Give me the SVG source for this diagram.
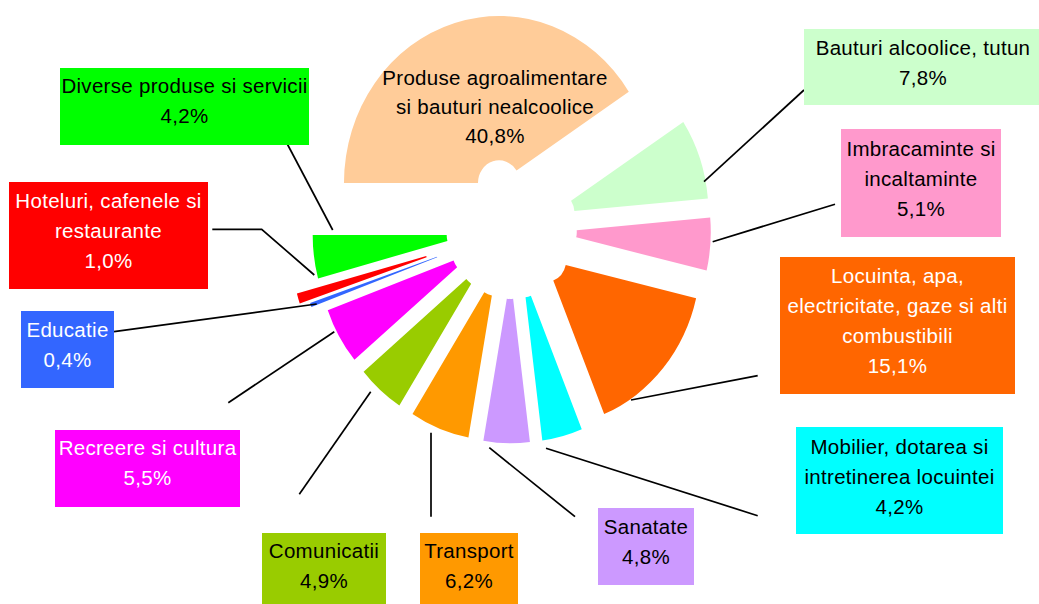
<svg xmlns="http://www.w3.org/2000/svg" width="1039" height="604" viewBox="0 0 1039 604">
<style>
text{font-family:"Liberation Sans",Arial,sans-serif;font-size:20.5px;letter-spacing:0.3px;text-anchor:middle}
.k{fill:#000}
.w{fill:#fff}
.c{fill:none;stroke:#000;stroke-width:1.7}
</style>
<rect width="1039" height="604" fill="#fff"/>
<g id="pie" transform="translate(511.6,228.7) scale(1,1.077)">
<path id="s-produse" fill="#FFCC99" d="M-167.63,-42.46 A155,155 0 0 1 117.19,-127.15 L4.96,-53.93 A21,21 0 0 0 -33.63,-42.46 Z"/>
<path id="s-bauturi" fill="#CCFFCC" d="M171.69,-99.17 A155,155 0 0 1 196.27,-28.10 L62.79,-16.32 A21,21 0 0 0 59.46,-25.95 Z"/>
<path id="s-imbracaminte" fill="#FF99CC" d="M198.58,-10.42 A155,155 0 0 1 195.01,38.91 L64.62,8.04 A21,21 0 0 0 65.10,1.36 Z"/>
<path id="s-locuinta" fill="#FF6600" d="M184.52,64.48 A155,155 0 0 1 92.56,172.16 L41.67,48.20 A21,21 0 0 0 54.13,33.61 Z"/>
<path id="s-mobilier" fill="#00FFFF" d="M70.16,186.23 A155,155 0 0 1 30.72,196.62 L13.92,63.67 A21,21 0 0 0 19.27,62.27 Z"/>
<path id="s-sanatate" fill="#CC99FF" d="M18.32,198.07 A155,155 0 0 1 -28.24,196.90 L-4.79,64.97 A21,21 0 0 0 1.52,65.12 Z"/>
<path id="s-transport" fill="#FF9900" d="M-43.18,193.90 A155,155 0 0 1 -99.11,172.16 L-27.30,59.02 A21,21 0 0 0 -19.73,61.97 Z"/>
<path id="s-comunicatii" fill="#99CC00" d="M-112.25,164.19 A155,155 0 0 1 -148.00,132.87 L-45.29,46.81 A21,21 0 0 0 -40.44,51.05 Z"/>
<path id="s-recreere" fill="#FF00FF" d="M-157.15,121.74 A155,155 0 0 1 -183.84,75.61 L-58.05,29.43 A21,21 0 0 0 -54.44,35.68 Z"/>
<path id="s-educatie" fill="#3366FF" d="M-200.20,72.72 A155,155 0 0 1 -201.50,69.05 L-74.59,26.04 A21,21 0 0 0 -74.41,26.54 Z"/>
<path id="s-hoteluri" fill="#FF0000" d="M-211.86,69.54 A155,155 0 0 1 -214.70,60.22 L-85.33,25.27 A21,21 0 0 0 -84.95,26.53 Z"/>
<path id="s-diverse" fill="#00FF00" d="M-193.55,46.26 A155,155 0 0 1 -198.91,5.83 L-64.91,5.83 A21,21 0 0 0 -64.18,11.31 Z"/>
</g>
<g id="connectors">
<line class="c" x1="804" y1="90" x2="704" y2="181.7"/>
<line class="c" x1="835" y1="204.3" x2="712.7" y2="241.7"/>
<line class="c" x1="757.7" y1="375.7" x2="631" y2="400"/>
<line class="c" x1="757.7" y1="515.7" x2="546" y2="448.3"/>
<line class="c" x1="575" y1="516.7" x2="489.3" y2="447.7"/>
<line class="c" x1="431" y1="516.7" x2="431" y2="432.7"/>
<line class="c" x1="299.3" y1="494.3" x2="370.7" y2="391.7"/>
<line class="c" x1="228.3" y1="402.7" x2="334.3" y2="331.7"/>
<line class="c" x1="114" y1="331.7" x2="316.7" y2="304"/>
<polyline class="c" points="212.3,229.3 261.7,229.3 314.3,275"/>
<line class="c" x1="287.3" y1="144" x2="332.7" y2="230"/>
</g>
<g id="label-produse">
<text class="k" x="495" y="85">Produse agroalimentare</text>
<text class="k" x="495" y="114">si bauturi nealcoolice</text>
<text class="k" x="495" y="143">40,8%</text>
</g>
<g id="label-bauturi">
<rect x="804" y="29" width="235" height="76" fill="#CCFFCC"/>
<text class="k" x="923" y="55">Bauturi alcoolice, tutun</text>
<text class="k" x="923" y="85">7,8%</text>
</g>
<g id="label-imbracaminte">
<rect x="841" y="129" width="160" height="108" fill="#FF99CC"/>
<text class="k" x="921" y="156">Imbracaminte si</text>
<text class="k" x="921" y="186">incaltaminte</text>
<text class="k" x="921" y="216">5,1%</text>
</g>
<g id="label-locuinta">
<rect x="780" y="257" width="235" height="137" fill="#FF6600"/>
<text class="w" x="897.5" y="283">Locuinta, apa,</text>
<text class="w" x="897.5" y="313">electricitate, gaze si alti</text>
<text class="w" x="897.5" y="343">combustibili</text>
<text class="w" x="897.5" y="373">15,1%</text>
</g>
<g id="label-mobilier">
<rect x="796" y="427" width="207" height="107" fill="#00FFFF"/>
<text class="k" x="899.5" y="454">Mobilier, dotarea si</text>
<text class="k" x="899.5" y="484">intretinerea locuintei</text>
<text class="k" x="899.5" y="514">4,2%</text>
</g>
<g id="label-sanatate">
<rect x="598" y="508" width="96" height="77" fill="#CC99FF"/>
<text class="k" x="646" y="534">Sanatate</text>
<text class="k" x="646" y="564">4,8%</text>
</g>
<g id="label-transport">
<rect x="420" y="533" width="98" height="71" fill="#FF9900"/>
<text class="k" x="469" y="558">Transport</text>
<text class="k" x="469" y="588">6,2%</text>
</g>
<g id="label-comunicatii">
<rect x="262" y="533" width="124" height="71" fill="#99CC00"/>
<text class="k" x="324" y="558">Comunicatii</text>
<text class="k" x="324" y="588">4,9%</text>
</g>
<g id="label-recreere">
<rect x="55" y="430" width="185" height="77" fill="#FF00FF"/>
<text class="w" x="147.5" y="455">Recreere si cultura</text>
<text class="w" x="147.5" y="485">5,5%</text>
</g>
<g id="label-educatie">
<rect x="21" y="311" width="93" height="77" fill="#3366FF"/>
<text class="w" x="67.5" y="337">Educatie</text>
<text class="w" x="67.5" y="367">0,4%</text>
</g>
<g id="label-hoteluri">
<rect x="9" y="182" width="199" height="107" fill="#FF0000"/>
<text class="w" x="108.5" y="208">Hoteluri, cafenele si</text>
<text class="w" x="108.5" y="238">restaurante</text>
<text class="w" x="108.5" y="268">1,0%</text>
</g>
<g id="label-diverse">
<rect x="60" y="68" width="249" height="77" fill="#00FF00"/>
<text class="k" x="184.5" y="93">Diverse produse si servicii</text>
<text class="k" x="184.5" y="123">4,2%</text>
</g>
</svg>
